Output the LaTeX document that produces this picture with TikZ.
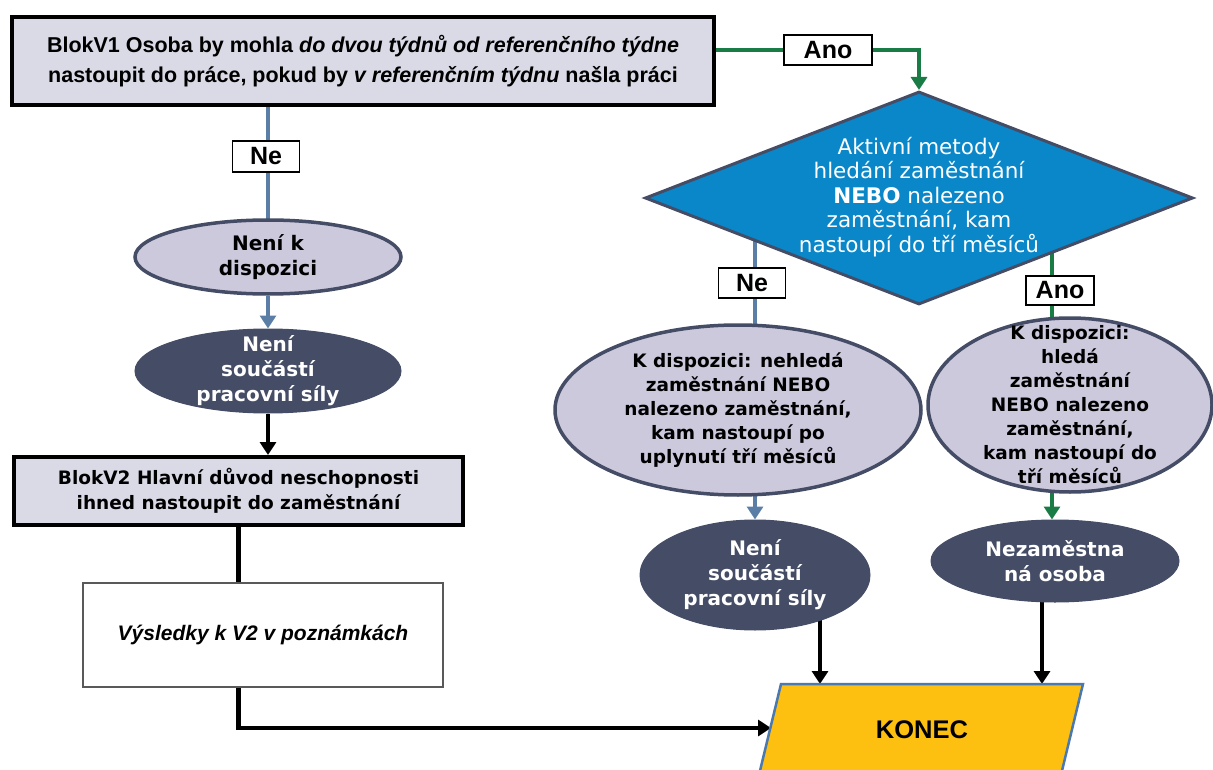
\documentclass[tikz,border=0pt]{standalone}
\usepackage{fontspec}
\setmainfont{Liberation Sans}
\newfontfamily\dvfont{DejaVu Sans}
\usetikzlibrary{shapes.geometric,arrows.meta,backgrounds}
\definecolor{boxfill}{HTML}{D9DAE6}
\definecolor{ellfill}{HTML}{CDC9DD}
\definecolor{slate}{HTML}{444C66}
\definecolor{steel}{HTML}{5B7EA6}
\definecolor{grn}{HTML}{197C45}
\definecolor{dia}{HTML}{0A87C9}
\definecolor{gold}{HTML}{FDC010}
\definecolor{konecb}{HTML}{4A78B0}
\begin{document}
\begin{tikzpicture}[x=1pt,y=-1pt,
  bigbox/.style={draw=black, line width=4pt, fill=boxfill, inner sep=0pt, align=center},
  notebox/.style={draw=black!65, line width=1.2pt, fill=white, inner sep=0pt, align=center,
    font=\bfseries\itshape\fontsize{21}{25}\selectfont},
  elight/.style={ellipse, draw=slate, line width=3.5pt, fill=ellfill, inner sep=0pt},
  edark/.style={ellipse, draw=slate, line width=1pt, fill=slate, inner sep=0pt},
  etxt/.style={align=center, inner sep=0pt, font=\dvfont\bfseries\fontsize{20}{25}\selectfont},
  etxtw/.style={etxt, text=white},
  esmall/.style={align=center, inner sep=0pt, font=\dvfont\bfseries\fontsize{18.5}{24}\selectfont},
  tag/.style={draw=black, line width=1.2pt, fill=white, inner sep=0pt,
    font=\bfseries\fontsize{25}{26}\selectfont},
  steelline/.style={draw=steel, line width=4.5pt},
  steelarrow/.style={steelline, -{Triangle[width=16pt,length=13pt]}},
  grnline/.style={draw=grn, line width=4pt},
  grnarrow/.style={grnline, -{Triangle[width=16pt,length=13pt]}},
  blkline/.style={draw=black, line width=4.5pt},
  blkarrow/.style={blkline, -{Triangle[width=16pt,length=13pt]}},
]
\useasboundingbox (0,0) rectangle (1213,770);

% main boxes
\node[bigbox, minimum width=702pt, minimum height=88pt,
  font=\bfseries\fontsize{21.5}{30}\selectfont] (b1) at (363,61)
  {BlokV1 Osoba by mohla \textit{do dvou týdnů od referenčního týdne}\\
   nastoupit do práce, pokud by \textit{v referenčním týdnu} našla práci};
\node[bigbox, minimum width=449pt, minimum height=68pt,
  font=\dvfont\bfseries\fontsize{18.5}{25}\selectfont] (b2) at (238.5,491)
  {BlokV2 Hlavní důvod neschopnosti\\ihned nastoupit do zaměstnání};
\node[notebox, minimum width=360pt, minimum height=104pt] (b3) at (263,635)
  {Výsledky k V2 v poznámkách};

% ellipses
\node[elight, minimum width=266pt, minimum height=74pt,
  label={[etxt]center:{Není k\\dispozici}}] (e1) at (268,257) {};
\node[edark, minimum width=266pt, minimum height=84pt,
  label={[etxtw]center:{Není\\součástí\\pracovní síly}}] (e2) at (268,371) {};
\node[elight, minimum width=366pt, minimum height=170pt,
  label={[esmall]center:{K dispozici: nehledá\\zaměstnání NEBO\\nalezeno zaměstnání,\\kam nastoupí po\\uplynutí tří měsíců}}] (e3) at (738,410) {};
\node[elight, minimum width=284pt, minimum height=174pt,
  label={[esmall]center:{K dispozici:\\hledá\\zaměstnání\\NEBO nalezeno\\zaměstnání,\\kam nastoupí do\\tří měsíců}}] (e4) at (1070,405) {};
\node[edark, minimum width=230pt, minimum height=110pt,
  label={[etxtw]center:{Není\\součástí\\pracovní síly}}] (e5) at (755,575) {};
\node[edark, minimum width=248pt, minimum height=82pt,
  label={[etxtw]center:{Nezaměstna\\ná osoba}}] (e6) at (1055,561) {};

% decision diamond
\node[diamond, draw=slate, line width=3pt, fill=dia, minimum width=548pt,
  minimum height=213pt, inner sep=0pt] (d) at (919,198) {};
\node[align=center, inner sep=0pt, text=white,
  font=\dvfont\fontsize{21.5}{24.5}\selectfont] (dt) at (919,197)
  {Aktivní metody\\hledání zaměstnání\\\textbf{NEBO} nalezeno\\zaměstnání, kam\\nastoupí do tří měsíců};

% end shape
\draw[draw=konecb, line width=2.5pt, fill=gold]
  (781,684) -- (1083,684) -- (1052,812) -- (750,812) -- cycle;
\node[font=\bfseries\fontsize{25.5}{27}\selectfont, inner sep=0pt] (konec) at (922,730) {KONEC};
\coordinate (k0) at (771,728);
\coordinate (k1) at (820,684);
\coordinate (k2) at (1042,684);
\coordinate (gx) at (1052,0);

% tags
\node[tag, minimum width=67pt, minimum height=31pt] (nel) at (266,156.5) {Ne};
\node[tag, minimum width=88pt, minimum height=30pt] (ano1) at (828,50) {Ano};
\node[tag, minimum width=67pt, minimum height=30pt] (ner) at (752,283) {Ne};
\node[tag, minimum width=68pt, minimum height=29pt] (anor) at (1060,290.5) {Ano};

% connectors
\begin{scope}[on background layer]
  \draw[steelline] (b1.center -| e1.north) -- (e1.center);
  \draw[steelarrow] (e1.south) -- (e2.north);
  \draw[blkarrow] (e2.south) -- (e2.south |- b2.north);
  \draw[blkline] (b2.south) -- (b3.center -| b2.south);
  \draw[blkarrow] (b3.center -| b2.south) |- (k0);
  \draw[grnarrow] (b1.center |- ano1.center) -- (ano1.center) -| (d.north);
  \draw[steelline] (d.center -| e5.center) -- (e3.center -| e5.center);
  \draw[steelarrow] (e3.center -| e5.center) -- (e5.north);
  \draw[grnline] (d.center -| gx) -- (e4.center -| gx);
  \draw[grnarrow] (e4.center -| gx) -- (e6.north -| gx);
  \draw[blkarrow] (e5.center -| k1) -- (k1);
  \draw[blkarrow] (e6.center -| k2) -- (k2);
\end{scope}
\end{tikzpicture}
\end{document}
